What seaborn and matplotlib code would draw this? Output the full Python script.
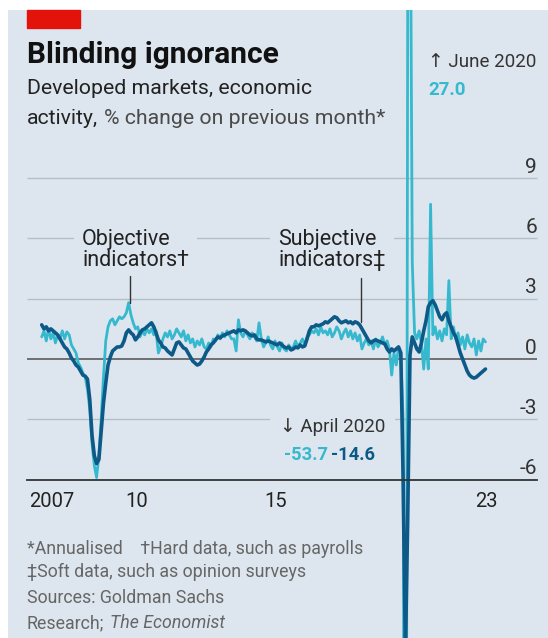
import matplotlib
matplotlib.use("Agg")
import matplotlib.pyplot as plt
from matplotlib.patches import Rectangle
import numpy as np
import pandas as pd
import seaborn as sns

# monthly data, Jan 2007 - Mar 2023
months = pd.date_range("2007-01-01", "2023-03-01", freq="MS")

objective = [
    1.1, 1.4, 0.9, 1.5, 1.0, 1.3, 0.8, 1.2, 1.0, 1.4, 1.0, 1.35,        # 2007
    1.2, 0.7, 0.5, 0.3, -0.2, -0.4, -0.7, -0.9, -1.5, -2.5, -4.2, -5.3,  # 2008
    -5.9, -4.8, -3.0, -0.9, 0.9, 1.6, 1.9, 2.0, 1.7, 1.9, 2.1, 2.0,      # 2009
    2.1, 2.3, 2.8, 2.2, 1.8, 1.5, 1.6, 1.1, 1.4, 1.2, 1.5, 1.3,          # 2010
    1.5, 1.2, 1.4, 0.3, 0.6, 1.0, 1.3, 1.1, 1.4, 1.0, 1.2, 1.5,          # 2011
    1.3, 1.1, 1.4, 0.9, 1.2, 0.8, 1.0, 0.6, 0.9, 0.7, 1.0, 0.6,          # 2012
    0.5, 0.8, 0.6, 1.0, 0.9, 1.2, 1.0, 1.3, 1.1, 1.4, 1.2, 1.0,          # 2013
    1.0, 0.4, 1.95, 1.3, 1.1, 1.4, 1.2, 1.0, 1.3, 1.1, 0.9, 1.8,         # 2014
    1.0, 0.6, 0.8, 1.1, 0.7, 0.5, 0.9, 0.6, 0.4, 0.8, 0.5, 0.4,          # 2015
    0.7, 0.5, 0.6, 0.9, 0.6, 0.8, 1.0, 0.7, 1.1, 1.2, 1.4, 1.3,          # 2016
    1.5, 1.2, 1.6, 1.3, 1.4, 1.2, 1.5, 1.1, 1.3, 1.6, 1.4, 1.0,          # 2017
    1.3, 1.5, 1.1, 1.4, 1.0, 1.3, 0.9, 1.2, 0.5, 0.8, 1.0, 0.7,          # 2018
    0.9, 0.5, 1.0, 0.6, 0.8, 1.1, 0.7, 0.9, 0.5, -0.8, 0.3, -0.3,        # 2019
    0.6, 0.1, -3.0, -53.7, 18.0, 27.0, 4.8, 1.3, 1.0, 1.4, 0.8, -0.5,    # 2020
    1.0, -0.5, 7.7, 1.2, 1.6, 1.0, 1.4, 0.9, 1.5, 1.2, 3.9, 1.0,         # 2021
    1.6, 1.0, 1.3, 0.7, 1.1, 0.5, 1.2, 0.8, 0.6, 1.0, 0.2, 0.9,          # 2022
    0.4, 1.0, 0.85,                                                      # 2023
]

subjective = [
    1.7, 1.5, 1.6, 1.4, 1.5, 1.4, 1.3, 1.2, 1.0, 0.8, 0.6, 0.5,          # 2007
    0.3, 0.05, -0.1, -0.3, -0.4, -0.6, -0.8, -0.85, -1.0, -2.0, -3.8, -4.8,  # 2008
    -5.2, -5.0, -3.6, -2.2, -1.2, -0.3, 0.1, 0.4, 0.5, 0.6, 0.6, 0.65,   # 2009
    0.9, 1.3, 1.45, 1.3, 1.2, 0.95, 1.1, 1.3, 1.45, 1.5, 1.6, 1.7,       # 2010
    1.8, 1.6, 1.3, 0.95, 0.8, 0.6, 0.55, 0.4, 0.3, 0.2, 0.5, 0.8,        # 2011
    0.85, 0.7, 0.55, 0.5, 0.3, 0.1, -0.1, -0.2, -0.3, -0.25, -0.1, 0.1,  # 2012
    0.35, 0.5, 0.7, 0.8, 0.95, 1.1, 1.05, 1.15, 1.2, 1.25, 1.3, 1.35,    # 2013
    1.4, 1.3, 1.45, 1.4, 1.45, 1.4, 1.3, 1.2, 1.15, 1.2, 1.0, 0.95,      # 2014
    0.95, 0.9, 0.85, 0.9, 0.85, 0.8, 0.75, 0.7, 0.8, 0.7, 0.6, 0.55,     # 2015
    0.6, 0.45, 0.5, 0.6, 0.55, 0.7, 0.6, 0.65, 1.0, 1.4, 1.6, 1.6,       # 2016
    1.7, 1.65, 1.7, 1.75, 1.85, 1.8, 1.9, 2.0, 2.1, 2.05, 1.9, 1.8,      # 2017
    1.85, 1.9, 1.8, 1.85, 1.75, 1.85, 1.8, 1.7, 1.5, 1.3, 1.1, 0.9,      # 2018
    0.8, 0.9, 0.95, 0.9, 0.85, 0.8, 0.75, 0.5, 0.35, 0.5, 0.4, 0.5,      # 2019
    0.6, 0.3, -6.0, -14.6, -8.0, 0.2, 1.1, 0.8, 0.5, 0.35, 0.8, 1.4,     # 2020
    1.9, 2.6, 2.8, 2.9, 2.7, 2.4, 2.1, 1.95, 2.2, 2.3, 1.9, 1.6,         # 2021
    1.3, 1.1, 0.7, 0.3, 0.0, -0.3, -0.6, -0.8, -0.9, -0.95, -0.9, -0.8,  # 2022
    -0.7, -0.6, -0.5,                                                    # 2023
]

y_ticks = [-6, -3, 0, 3, 6, 9]
x_tick_years = list(range(2007, 2024))
x_label_pos = [2007.37, 2010.46, 2015.52, 2023.19]
x_labels = ["2007", "10", "15", "23"]

BG = "#dde6ee"
CYAN = "#36b9ce"
DARK = "#0d5a88"
GRID = "#b4bec6"
FONTS = ["Roboto", "DejaVu Sans"]

sns.set_style("white")
plt.rcParams["font.family"] = FONTS

df = pd.DataFrame({
    "year": months.year + (months.month - 1) / 12,
    "objective": objective,
    "subjective": subjective,
})

W, H = 548, 638
fig = plt.figure(figsize=(W / 100, H / 100), dpi=100, facecolor="white")
# axes = the blue panel (x 8..548 px, y 10..638 px from top)
ax = fig.add_axes([8 / W, 0, 540 / W, 628 / H])
ax.set_facecolor(BG)


def px_to_year(px):
    return 2007 + (px - 41.7) / 27.45


def py_to_val(py):
    return (359 - py) / 20.1


ax.set_xlim(px_to_year(8), px_to_year(548))
ax.set_ylim(py_to_val(638), py_to_val(10))

x0, x1 = px_to_year(27), px_to_year(537)
for v in y_ticks:
    if v != -6:
        ax.hlines(v, x0, x1, color="#666666" if v == 0 else GRID,
                  lw=1.3 if v == 0 else 1.0, zorder=1)
    ax.annotate(str(v), (x1, v), xytext=(0, 1), textcoords="offset points",
                ha="right", va="bottom", fontsize=15, color="#333333")

sns.lineplot(data=df, x="year", y="objective", color=CYAN, lw=2.0, ax=ax,
             estimator=None, zorder=3)
sns.lineplot(data=df, x="year", y="subjective", color=DARK, lw=2.6, ax=ax,
             estimator=None, zorder=4)

# x axis at -6
for s in ["top", "right", "left"]:
    ax.spines[s].set_visible(False)
ax.spines["bottom"].set_position(("data", -6))
ax.spines["bottom"].set_bounds(x0, x1)
ax.spines["bottom"].set_color("#333333")
ax.spines["bottom"].set_linewidth(1.3)
ax.spines["bottom"].set_zorder(5)
ax.set_xticks(x_tick_years)
ax.set_xticklabels([])
ax.tick_params(axis="x", which="major", direction="out", length=4, width=1,
               color="#333333")
ax.set_xticks(x_label_pos, minor=True)
ax.set_xticklabels(x_labels, minor=True, fontsize=14.5, color="#222222")
ax.tick_params(axis="x", which="minor", length=0, pad=9)
ax.set_yticks([])
ax.set_xlabel("")
ax.set_ylabel("")

# annotations
box = dict(facecolor=BG, edgecolor="none", pad=6)
ax.text(px_to_year(82), py_to_val(250), "Objective\nindicators†", fontsize=15.5,
        color="#222222", ha="left", va="center", linespacing=1.0, bbox=box, zorder=2)
ax.plot([px_to_year(130)] * 2, [py_to_val(276), py_to_val(303)], color="#333333",
        lw=1.0, zorder=5)
ax.text(px_to_year(278), py_to_val(250), "Subjective\nindicators‡", fontsize=15.5,
        color="#222222", ha="left", va="center", linespacing=1.0, bbox=box, zorder=2)
ax.plot([px_to_year(361)] * 2, [py_to_val(278), py_to_val(322)], color="#333333",
        lw=1.0, zorder=5)

ax.text(px_to_year(428), py_to_val(62), "↑ June 2020", fontsize=13.5,
        color="#333333", ha="left", va="center")
ax.text(px_to_year(428), py_to_val(90), "27.0", fontsize=13.5, fontweight="bold",
        color=CYAN, ha="left", va="center")
ax.text(px_to_year(280), py_to_val(427), "↓ April 2020", fontsize=13.5,
        color="#333333", ha="left", va="center",
        bbox=dict(facecolor=BG, edgecolor="none", pad=7), zorder=2)
t53 = ax.text(px_to_year(284), py_to_val(455), "-53.7", fontsize=13.2, fontweight="bold",
              color=CYAN, ha="left", va="center", zorder=2)
ax.annotate("-14.6", xy=(1, 0.5), xycoords=t53, xytext=(2, 0),
            textcoords="offset points", fontsize=13.2, fontweight="bold",
            color=DARK, ha="left", va="center", zorder=2)

# header
fig.patches.append(Rectangle((27 / W, 1 - 28 / H), 53 / W, 18 / H,
                             transform=fig.transFigure, color="#e3120b", zorder=5))
fig.text(27 / W, 1 - 63 / H, "Blinding ignorance", fontsize=21.5, fontweight="bold",
         color="#111111", ha="left", va="baseline")
fig.text(27 / W, 1 - 94 / H, "Developed markets, economic", fontsize=15.3,
         color="#222222", ha="left", va="baseline")
t = fig.text(27 / W, 1 - 124 / H, "activity,", fontsize=15.3, color="#222222",
             ha="left", va="baseline")
fig.texts.append(plt.Annotation("% change on previous month*", xy=(1, 0), xycoords=t,
                                xytext=(4, 0), textcoords="offset points",
                                fontsize=15.3, color="#4a4a4a", ha="left",
                                va="bottom"))
fig.texts[-1].set_figure(fig)

# footnotes
FOOT = "#666666"
fig.text(27 / W, 1 - 554 / H, "*Annualised    †Hard data, such as payrolls", fontsize=12.8,
         color=FOOT, ha="left", va="baseline")
fig.text(27 / W, 1 - 577 / H, "‡Soft data, such as opinion surveys", fontsize=12.8,
         color=FOOT, ha="left", va="baseline")
fig.text(27 / W, 1 - 603 / H, "Sources: Goldman Sachs", fontsize=12.8,
         color=FOOT, ha="left", va="baseline")
r = fig.text(27 / W, 1 - 628 / H, "Research;", fontsize=12.8,
             color=FOOT, ha="left", va="baseline")
fig.texts.append(plt.Annotation("The Economist", xy=(1, 0), xycoords=r,
                                xytext=(4, 0), textcoords="offset points",
                                fontsize=12.8, style="italic", color=FOOT,
                                ha="left", va="bottom"))
fig.texts[-1].set_figure(fig)

fig.savefig("out.png", dpi=100, facecolor="white")
